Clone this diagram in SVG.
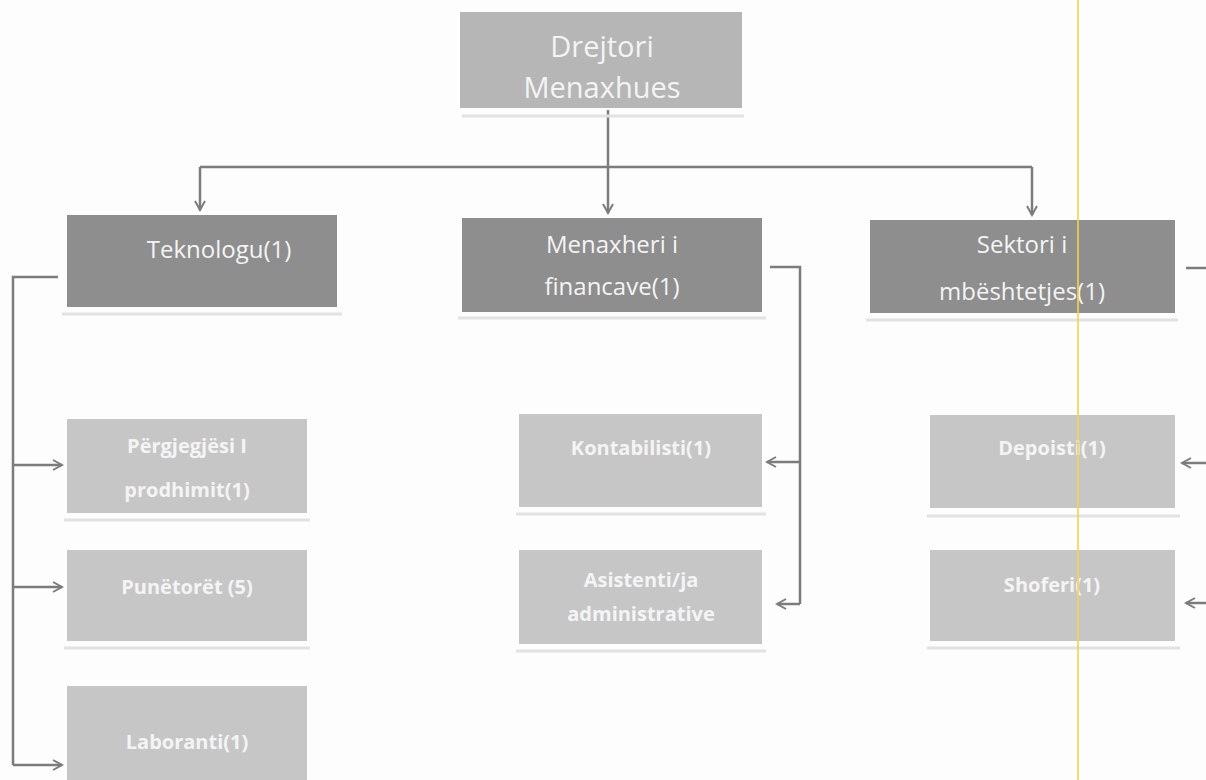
<svg xmlns="http://www.w3.org/2000/svg" width="1206" height="780" viewBox="0 0 1206 780">
<defs>
<style>
.bg{fill:#fdfdfd}
.top{fill:#b6b6b6}
.mid{fill:#8e8e8e}
.low{fill:#c6c6c6}
.sh{fill:none;stroke:#e2e2e2;stroke-width:3}
.t{fill:#f4f4f4;font-family:"Open Sans","Noto Sans",sans-serif;text-anchor:middle}
.tl{font-size:29px}
.tm{font-size:24px}
.tb{font-size:20px;font-weight:bold}
.c{fill:none;stroke:#7c7c7c;stroke-width:2.5}
</style>
<marker id="ah" viewBox="0 0 12 12" refX="10" refY="6" markerWidth="12" markerHeight="12" markerUnits="userSpaceOnUse" orient="auto">
<path d="M1,1 L10,6 L1,11" fill="none" stroke="#7c7c7c" stroke-width="2"/>
</marker>
</defs>
<rect class="bg" x="0" y="0" width="1206" height="780"/>

<g id="connectors">
<path class="c" d="M608,110 V167"/>
<path class="c" d="M200,167 H1032"/>
<path class="c" d="M200,167 V210" marker-end="url(#ah)"/>
<path class="c" d="M608,167 V213" marker-end="url(#ah)"/>
<path class="c" d="M1032,167 V215" marker-end="url(#ah)"/>
<path class="c" d="M58,277 H13 V765"/>
<path class="c" d="M13,465 H62" marker-end="url(#ah)"/>
<path class="c" d="M13,587 H62" marker-end="url(#ah)"/>
<path class="c" d="M13,765 H62" marker-end="url(#ah)"/>
<path class="c" d="M770,267 H800 V604"/>
<path class="c" d="M800,462 H767" marker-end="url(#ah)"/>
<path class="c" d="M800,604 H777" marker-end="url(#ah)"/>
<path class="c" d="M1186,268 H1206"/>
<path class="c" d="M1206,463 H1182" marker-end="url(#ah)"/>
<path class="c" d="M1206,603 H1186" marker-end="url(#ah)"/>
</g>

<g id="n-drejtori">
<path class="sh" d="M462,116 H744"/>
<rect class="top" x="460" y="12" width="282" height="96"/>
<text class="t tl" x="602" y="57">Drejtori</text>
<text class="t tl" x="602" y="98">Menaxhues</text>
</g>

<g id="n-teknologu">
<path class="sh" d="M62,314 H342"/>
<rect class="mid" x="67" y="215" width="270" height="92"/>
<text class="t tm" x="219" y="258">Teknologu(1)</text>
</g>

<g id="n-menaxheri">
<path class="sh" d="M458,318 H766"/>
<rect class="mid" x="462" y="218" width="300" height="94"/>
<text class="t tm" x="612" y="253">Menaxheri i</text>
<text class="t tm" x="612" y="295">financave(1)</text>
</g>

<g id="n-sektori">
<path class="sh" d="M866,320 H1178"/>
<rect class="mid" x="870" y="220" width="305" height="93"/>
<text class="t tm" x="1022" y="253">Sektori i</text>
<text class="t tm" x="1022" y="300">mbështetjes(1)</text>
</g>

<g id="n-pergjegjesi">
<path class="sh" d="M64,520 H310"/>
<rect class="low" x="67" y="419" width="240" height="94"/>
<text class="t tb" x="187" y="453">Përgjegjësi I</text>
<text class="t tb" x="187" y="497">prodhimit(1)</text>
</g>

<g id="n-punetoret">
<path class="sh" d="M64,648 H310"/>
<rect class="low" x="67" y="550" width="240" height="91"/>
<text class="t tb" x="187" y="594">Punëtorët (5)</text>
</g>

<g id="n-laboranti">
<rect class="low" x="67" y="686" width="240" height="100"/>
<text class="t tb" x="187" y="749">Laboranti(1)</text>
</g>

<g id="n-kontabilisti">
<path class="sh" d="M516,514 H766"/>
<rect class="low" x="519" y="414" width="243" height="93"/>
<text class="t tb" x="641" y="455">Kontabilisti(1)</text>
</g>

<g id="n-asistenti">
<path class="sh" d="M516,651 H766"/>
<rect class="low" x="519" y="550" width="243" height="94"/>
<text class="t tb" x="641" y="587">Asistenti/ja</text>
<text class="t tb" x="641" y="621">administrative</text>
</g>

<g id="n-depoisti">
<path class="sh" d="M927,516 H1180"/>
<rect class="low" x="930" y="415" width="245" height="93"/>
<text class="t tb" x="1052" y="455">Depoisti(1)</text>
</g>

<g id="n-shoferi">
<path class="sh" d="M927,648 H1180"/>
<rect class="low" x="930" y="550" width="245" height="91"/>
<text class="t tb" x="1052" y="592">Shoferi(1)</text>
</g>

<line x1="1078" y1="0" x2="1078" y2="780" stroke="#f2d44a" stroke-width="2" opacity="0.8"/>
</svg>
